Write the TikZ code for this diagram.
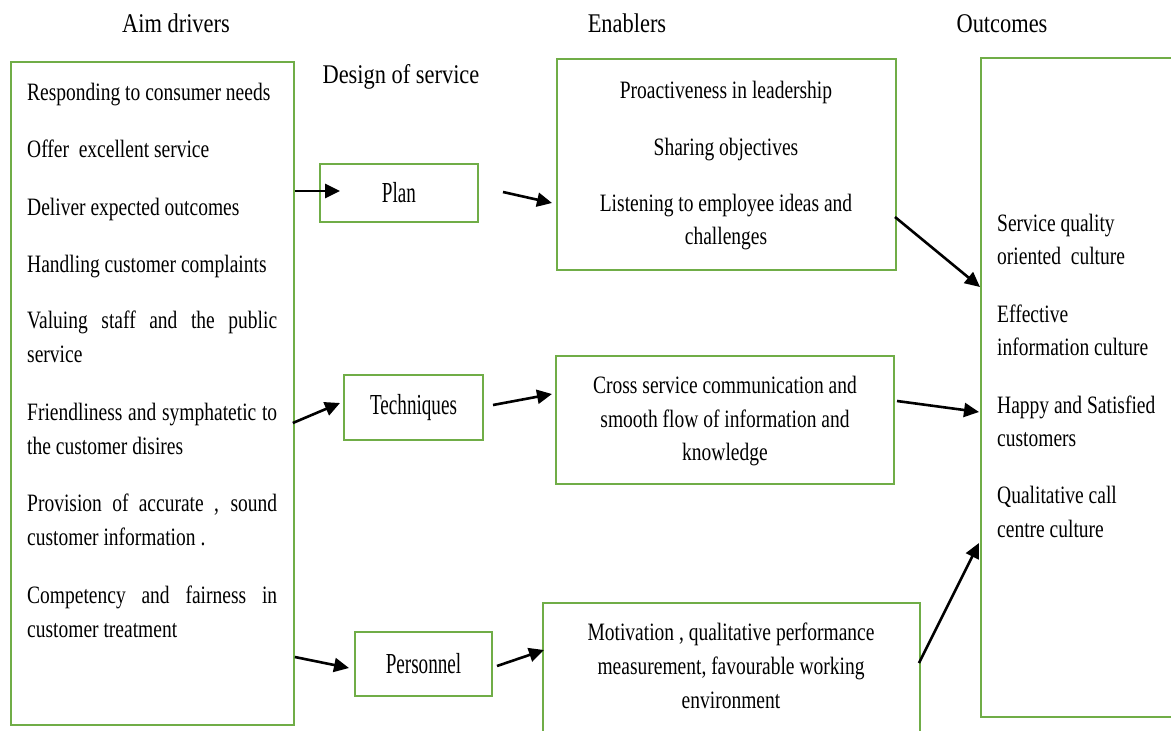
\documentclass[tikz,border=0pt]{standalone}
\usepackage{fontspec}
\setmainfont{Liberation Serif}[FakeStretch=0.78]
\newfontfamily\hfont{Liberation Serif}[FakeStretch=0.83]
\newfontfamily\nfont{Liberation Serif}[FakeStretch=0.66]
\usetikzlibrary{arrows.meta,calc}
\definecolor{boxgreen}{RGB}{112,173,71}
\newcommand{\jl}[1]{\makebox[250pt][s]{#1}}
\begin{document}
\begin{tikzpicture}[x=1pt,y=-1pt,
  gbox/.style={draw=boxgreen,line width=2.6pt,inner sep=0pt,outer sep=0pt},
  arr/.style={draw=black,line width=2.6pt,-{Triangle[length=15pt,width=14pt]}},
  lt/.style={anchor=base west,inner sep=0pt,font=\fontsize{25}{33}\selectfont},
  ct/.style={anchor=base,inner sep=0pt,font=\fontsize{25}{33}\selectfont},
  hd/.style={anchor=base,inner sep=0pt,font=\hfont\fontsize{27}{33}\selectfont},
  sb/.style={gbox,font=\nfont\fontsize{29}{33}\selectfont}]
\useasboundingbox[fill=white] (0,0) rectangle (1171,731);
\clip (0,0) rectangle (1171,731);

% headings
\node[hd] (h1) at (176,32) {Aim drivers};
\node[hd] (h2) at (627,32) {Enablers};
\node[hd] (h3) at (1002,32) {Outcomes};
\node[hd] (h4) at (401,83) {Design of service};

% boxes
\node[gbox,minimum width=283pt,minimum height=663pt] (aim) at (152.3,393.5) {};
\node[sb,minimum width=158pt,minimum height=58pt] (plan) at (399,193) {Plan};
\node[sb,minimum width=139pt,minimum height=65pt] (tech) at (413.5,407.5) {Techniques};
\node[sb,minimum width=137pt,minimum height=64pt] (pers) at (423.5,664) {Personnel};
\node[gbox,minimum width=339pt,minimum height=211pt] (en1) at (726.5,164.5) {};
\node[gbox,minimum width=338pt,minimum height=128pt] (en2) at (725,420) {};
\node[gbox,minimum width=377pt,minimum height=157pt] (en3) at (731.5,681.5) {};
\node[gbox,minimum width=209pt,minimum height=659pt] (out) at (1085.5,387.5) {};

% aim drivers text
\node[lt] (d1) at (27,100) {Responding to consumer needs};
\node[lt] (d2) at (27,157) {Offer\ \ excellent service};
\node[lt] (d3) at (27,215) {Deliver expected outcomes};
\node[lt] (d4) at (27,272) {Handling customer complaints};
\node[lt] (d5a) at (27,328) {\jl{Valuing staff and the public}};
\node[lt] (d5b) at (27,362) {service};
\node[lt] (d6a) at (27,420) {\jl{Friendliness and symphatetic to}};
\node[lt] (d6b) at (27,454) {the customer disires};
\node[lt] (d7a) at (27,511) {\jl{Provision of accurate , sound}};
\node[lt] (d7b) at (27,545) {customer information .};
\node[lt] (d8a) at (27,603) {\jl{Competency and fairness in}};
\node[lt] (d8b) at (27,637) {customer treatment};

% enablers text
\node[ct] (e1a) at (726,98) {Proactiveness in leadership};
\node[ct] (e1b) at (726,155) {Sharing objectives};
\node[ct] (e1c) at (726,211) {Listening to employee ideas and};
\node[ct] (e1d) at (726,244) {challenges};
\node[ct] (e2a) at (725,393) {Cross service communication and};
\node[ct] (e2b) at (725,427) {smooth flow of information and};
\node[ct] (e2c) at (725,460) {knowledge};
\node[ct] (e3a) at (731,640) {Motivation , qualitative performance};
\node[ct] (e3b) at (731,674) {measurement, favourable working};
\node[ct] (e3c) at (731,708) {environment};

% outcomes text
\node[lt] (o1a) at (997,231) {Service quality};
\node[lt] (o1b) at (997,264) {oriented\ \ culture};
\node[lt] (o2a) at (997,322) {Effective};
\node[lt] (o2b) at (997,355) {information culture};
\node[lt] (o3a) at (997,413) {Happy and Satisfied};
\node[lt] (o3b) at (997,446) {customers};
\node[lt] (o4a) at (997,503) {Qualitative call};
\node[lt] (o4b) at (997,537) {centre culture};

% connectors
\draw[arr] ($(aim.east)+(1,-202.5)$) -- ($(plan.west)+(20,-2)$);
\draw[arr] ($(plan.east)+(25,-1)$) -- ($(en1.west)+(-5,38.5)$);
\draw[arr] ($(aim.east)+(-1,29.5)$) -- ($(tech.west)+(-4,-4.5)$);
\draw[arr] ($(tech.east)+(10,-2.5)$) -- ($(en2.west)+(-4,-26)$);
\draw[arr] ($(aim.east)+(1,263.5)$) -- ($(pers.west)+(-6,4)$);
\draw[arr] ($(pers.east)+(5,2)$) -- ($(en3.west)+(1,-31.5)$);
\draw[arr] ($(en1.east)+(-1,52.5)$) -- ($(out.west)+(-1,-100.5)$);
\draw[arr] ($(en2.east)+(3,-19)$) -- ($(out.west)+(-2,24.5)$);
\draw[arr] ($(en3.east)+(-1,-18.5)$) -- ($(out.west)+(-2,155.5)$);
\end{tikzpicture}
\end{document}
